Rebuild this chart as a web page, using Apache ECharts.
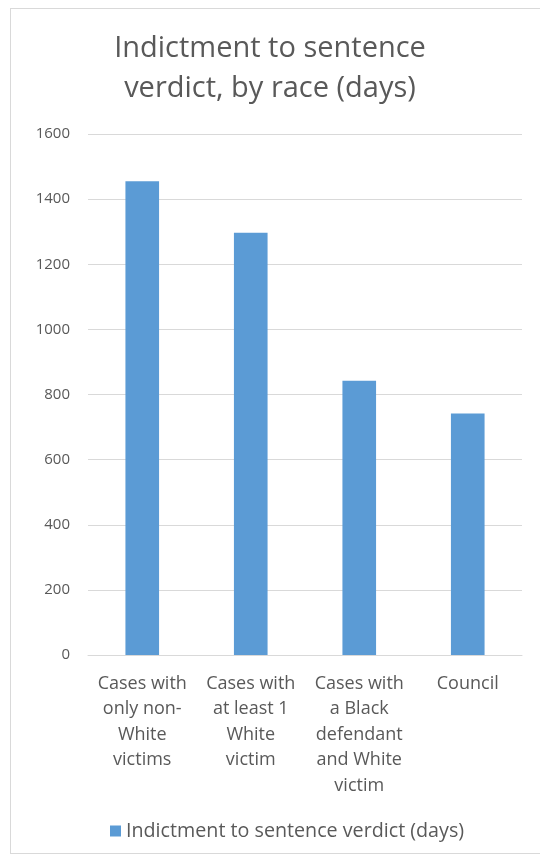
<!DOCTYPE html>
<html>
<head>
<meta charset="utf-8">
<script src="https://cdn.jsdelivr.net/npm/echarts@6/dist/echarts.min.js"></script>
<style>
  html, body { margin: 0; padding: 0; background: #fff; }
  #frame { position: absolute; left: 10px; top: 8px; width: 540px; height: 846px; border: 1px solid #d9d9d9; box-sizing: border-box; }
  #chart { position: absolute; left: 0; top: 0; width: 540px; height: 860px; }
</style>
</head>
<body>
<div id="frame"></div>
<div id="chart"></div>
<script>
const categories = [
  'Cases with\nonly non-\nWhite\nvictims',
  'Cases with\nat least 1\nWhite\nvictim',
  'Cases with\na Black\ndefendant\nand White\nvictim',
  'Council'
];
const seriesName = 'Indictment to sentence verdict (days)';
const values = [1455, 1297, 842, 742];
const yTicks = [0, 200, 400, 600, 800, 1000, 1200, 1400, 1600];

const font = '"Open Sans", Lato, sans-serif';
const chart = echarts.init(document.getElementById('chart'), null, { renderer: 'canvas' });
chart.setOption({
  animation: false,
  title: {
    text: 'Indictment to sentence\nverdict, by race (days)',
    left: 'center',
    top: 24,
    textStyle: { fontFamily: font, fontSize: 29, fontWeight: 'normal', color: '#595959', lineHeight: 40 }
  },
  grid: { left: 88, right: 18, top: 134, bottom: 205 },
  legend: {
    bottom: 14,
    left: 105,
    icon: 'rect',
    itemWidth: 11,
    itemHeight: 11,
    itemGap: 5,
    textStyle: { fontFamily: font, fontSize: 19.7, color: '#595959' },
    data: [seriesName]
  },
  xAxis: {
    type: 'category',
    data: categories,
    axisLine: { lineStyle: { color: '#d9d9d9' } },
    axisTick: { show: false },
    axisLabel: { fontFamily: font, fontSize: 18, color: '#595959', lineHeight: 25.5, margin: 16, interval: 0 }
  },
  yAxis: {
    type: 'value',
    min: yTicks[0],
    max: yTicks[yTicks.length - 1],
    interval: 200,
    axisLine: { show: false },
    axisTick: { show: false },
    axisLabel: { fontFamily: font, fontSize: 15, color: '#595959', margin: 18, formatter: v => String(v) },
    splitLine: { lineStyle: { color: '#d9d9d9' } }
  },
  series: [{
    name: seriesName,
    type: 'bar',
    data: values,
    barWidth: '31%',
    itemStyle: { color: '#5b9bd5' }
  }]
});
</script>
</body>
</html>
